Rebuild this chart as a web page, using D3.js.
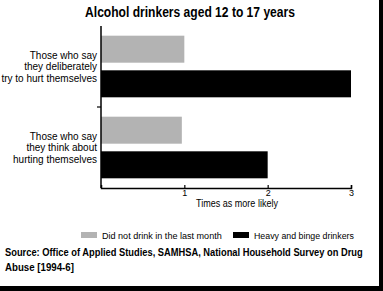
<!DOCTYPE html>
<html>
<head>
<meta charset="utf-8">
<script src="https://cdn.jsdelivr.net/npm/d3@7"></script>
<style>
  body { margin: 0; background: #fff; }
  svg { display: block; }
  text { font-family: "Liberation Sans Narrow", "Liberation Sans", Arial, sans-serif; }
</style>
</head>
<body>
<div id="chart"></div>
<script>
// data
var categories = ["deliberately", "think"];
var categoryLines = [
    ["Those who say", "they deliberately", "try to hurt themselves"],
    ["Those who say", "they think about", "hurting themselves"]
];
var seriesNames = ["Did not drink in the last month", "Heavy and binge drinkers"];
var noDrink = [1.0, 0.97];
var heavy = [3.0, 2.0];
var xTicks = [1, 2, 3];
var colors = ["#b3b3b3", "#000000"];

var W = 383, H = 291;

var svg = d3.select("#chart").append("svg")
    .attr("width", W)
    .attr("height", H);

// squeeze a text horizontally so it spans width w, anchored at (x0, y0)
function fitWidth(sel, x0, y0, w) {
    sel.each(function () {
        var len = this.getComputedTextLength();
        var k = Math.min(1, w / len);
        d3.select(this)
            .attr("x", 0).attr("y", 0)
            .attr("transform", "translate(" + x0 + "," + y0 + ") scale(" + k + ",1)");
    });
}

svg.append("rect").attr("width", W).attr("height", H).attr("fill", "#fff");

// shadow-like frame on the right and bottom
svg.append("rect").attr("x", 379).attr("y", 0).attr("width", 4).attr("height", H).attr("fill", "#000");
svg.append("rect").attr("x", 0).attr("y", 286).attr("width", W).attr("height", 5).attr("fill", "#000");

svg.append("text")
    .attr("text-anchor", "middle")
    .attr("font-size", 14).attr("font-weight", "bold")
    .text("Alcohol drinkers aged 12 to 17 years")
    .call(fitWidth, 190, 17, 210);

var x = d3.scaleLinear().domain([0, 3]).range([101, 351]);
var y = d3.scaleBand().domain(categories).range([26, 188]);
var yInner = d3.scaleBand().domain(seriesNames).range([0, y.bandwidth()])
    .paddingInner(0.22).paddingOuter(0.28);

var rows = categories.map(function (c, i) {
    return {cat: c, values: [noDrink[i], heavy[i]], lines: categoryLines[i]};
});

var g = svg.selectAll(".grp").data(rows).enter().append("g")
    .attr("class", "grp")
    .attr("transform", function (d) { return "translate(0," + y(d.cat) + ")"; });

g.selectAll("rect").data(function (d) {
    return d.values.map(function (v, j) { return {v: v, s: seriesNames[j], c: colors[j]}; });
}).enter().append("rect")
    .attr("x", x(0))
    .attr("y", function (d) { return yInner(d.s); })
    .attr("width", function (d) { return x(d.v) - x(0); })
    .attr("height", yInner.bandwidth())
    .attr("fill", function (d) { return d.c; });

// category labels
g.each(function (d) {
    var t = d3.select(this).append("text")
        .attr("text-anchor", "end")
        .attr("font-size", 10)
        .attr("fill", "#000");
    var mid = y.bandwidth() / 2 + 3.5;
    d.lines.forEach(function (line, k) {
        t.append("tspan")
            .attr("x", 97)
            .attr("y", mid + (k - 1) * 11.5)
            .text(line);
    });
});

// y axis line and separator tick
svg.append("line")
    .attr("x1", x(0)).attr("x2", x(0))
    .attr("y1", y.range()[0]).attr("y2", y.range()[1])
    .attr("stroke", "#000").attr("stroke-width", 1.5);
svg.append("line")
    .attr("x1", x(0) - 4).attr("x2", x(0))
    .attr("y1", y(categories[1])).attr("y2", y(categories[1]))
    .attr("stroke", "#000").attr("stroke-width", 1.2);

// x axis with inner ticks
var xAxis = d3.axisBottom(x).tickValues(xTicks).tickSize(-3).tickPadding(2)
    .tickFormat(d3.format("d"));
var ax = svg.append("g")
    .attr("transform", "translate(0," + y.range()[1] + ")")
    .call(xAxis);
ax.select(".domain").attr("stroke-width", 1.5);
ax.selectAll(".tick line").attr("stroke-width", 1.2);
ax.selectAll(".tick text").attr("font-size", 9)
    .attr("font-family", "\"Liberation Sans Narrow\", \"Liberation Sans\", Arial, sans-serif");

svg.append("text")
    .attr("text-anchor", "middle")
    .attr("font-size", 10)
    .text("Times as more likely")
    .call(fitWidth, 237, 207, 82);

// legend
var legendX = [81, 233];
var legendW = [120, 100];
var lg = svg.selectAll(".lg").data(seriesNames).enter().append("g")
    .attr("class", "lg")
    .attr("transform", function (d, i) { return "translate(" + legendX[i] + ",232)"; });
lg.append("rect").attr("width", 16).attr("height", 6)
    .attr("fill", function (d, i) { return colors[i]; });
lg.append("text")
    .attr("font-size", 9.5)
    .text(function (d) { return d; })
    .each(function (d, i) { d3.select(this).call(fitWidth, 21, 6.5, legendW[i]); });

// source note
var sourceLines = ["Source: Office of Applied Studies, SAMHSA, National Household Survey on Drug", "Abuse [1994-6]"];
var sourceW = [358, 69];
svg.selectAll(".src").data(sourceLines).enter().append("text")
    .attr("class", "src")
    .attr("font-size", 11).attr("font-weight", "bold")
    .text(function (d) { return d; })
    .each(function (d, i) { d3.select(this).call(fitWidth, 5, 256 + i * 15, sourceW[i]); });
</script>
</body>
</html>
